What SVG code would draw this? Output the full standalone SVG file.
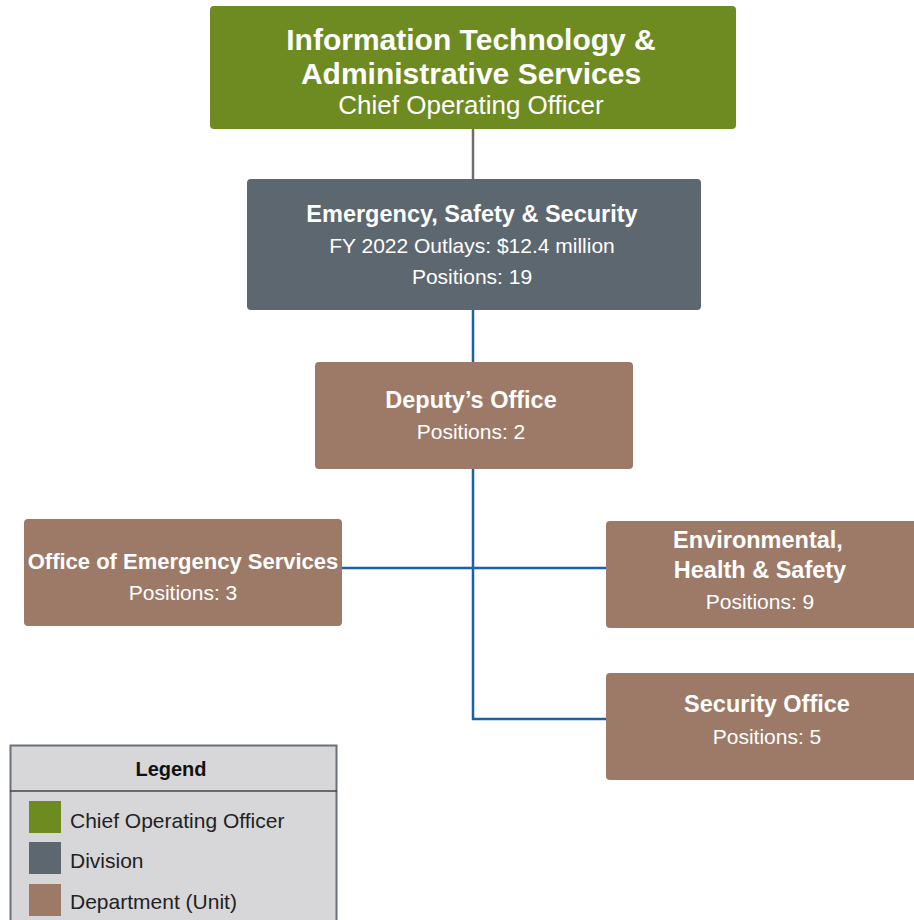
<svg xmlns="http://www.w3.org/2000/svg" width="914" height="920" viewBox="0 0 914 920">
<style>
text{font-family:"Liberation Sans",Arial,sans-serif;fill:#fff;text-anchor:middle}
.b{font-weight:bold}
.t{font-size:30px}
.s{font-size:21px}
.h{font-size:23.5px}
.lg{fill:#222;text-anchor:start;font-size:21px}
.cop{fill:#6e8b22}
.div{fill:#5d6770}
.dep{fill:#9c7a67}
.blue{stroke:#1f5fa6;stroke-width:2.5;fill:none}
</style>
<rect width="914" height="920" fill="#fff"/>
<g id="connectors">
<line x1="473" y1="129" x2="473" y2="179" stroke="#6e6e6e" stroke-width="2.5"/>
<line class="blue" x1="473" y1="310" x2="473" y2="362"/>
<polyline class="blue" points="473,469 473,719 606,719"/>
<line class="blue" x1="342" y1="568" x2="606" y2="568"/>
</g>
<g id="node-itas">
<rect class="cop" x="210" y="6" width="526" height="123" rx="4"/>
<text class="b t" x="471" y="50">Information Technology &amp;</text>
<text class="b t" x="471" y="84">Administrative Services</text>
<text x="471" y="114" style="font-size:26px">Chief Operating Officer</text>
</g>
<g id="node-ess">
<rect class="div" x="247" y="179" width="454" height="131" rx="4"/>
<text class="b h" x="472" y="222">Emergency, Safety &amp; Security</text>
<text class="s" x="472" y="253">FY 2022 Outlays: $12.4 million</text>
<text class="s" x="472" y="284">Positions: 19</text>
</g>
<g id="node-deputy">
<rect class="dep" x="315" y="362" width="318" height="107" rx="4"/>
<text class="b h" x="471" y="408">Deputy’s Office</text>
<text class="s" x="471" y="439">Positions: 2</text>
</g>
<g id="node-oes">
<rect class="dep" x="24" y="519" width="318" height="107" rx="4"/>
<text class="b" x="183" y="569" style="font-size:22px">Office of Emergency Services</text>
<text class="s" x="183" y="600">Positions: 3</text>
</g>
<g id="node-ehs">
<rect class="dep" x="606" y="521" width="312" height="107" rx="4"/>
<text class="b h" x="758" y="548">Environmental,</text>
<text class="b h" x="760" y="578">Health &amp; Safety</text>
<text class="s" x="760" y="609">Positions: 9</text>
</g>
<g id="node-security">
<rect class="dep" x="606" y="673" width="312" height="107" rx="4"/>
<text class="b h" x="767" y="712">Security Office</text>
<text class="s" x="767" y="744">Positions: 5</text>
</g>
<g id="legend">
<rect x="10.5" y="745.5" width="326" height="180" fill="#d7d7da" stroke="#6a7078" stroke-width="2"/>
<line x1="10" y1="791" x2="337" y2="791" stroke="#444" stroke-width="1.5"/>
<text class="b" x="171" y="776" style="fill:#111;font-size:20px">Legend</text>
<rect class="cop" x="29" y="801" width="32" height="32"/>
<text class="lg" x="70" y="828">Chief Operating Officer</text>
<rect class="div" x="29" y="842" width="32" height="32"/>
<text class="lg" x="70" y="868">Division</text>
<rect class="dep" x="29" y="884" width="32" height="32"/>
<text class="lg" x="70" y="909">Department (Unit)</text>
</g>
</svg>
